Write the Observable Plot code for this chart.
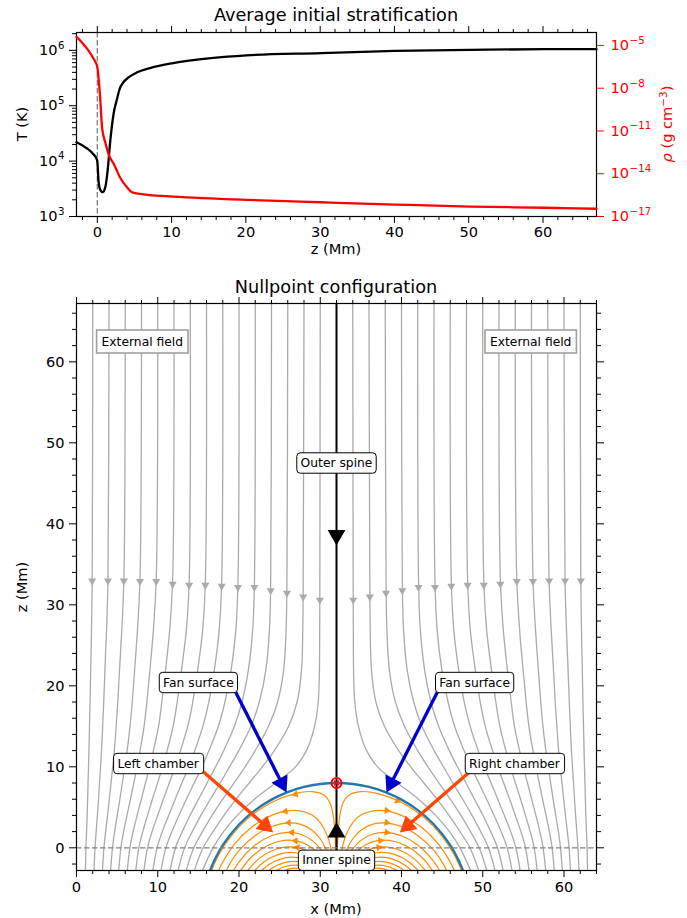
<!DOCTYPE html>
<html>
<head>
<meta charset="utf-8">
<script src="https://cdn.jsdelivr.net/npm/d3@7"></script>
<script src="https://cdn.jsdelivr.net/npm/@observablehq/plot@0.6"></script>
<style>
  html, body { margin: 0; padding: 0; background: #fff; }
  #fig { position: relative; width: 687px; height: 918px; overflow: hidden; font-family: "DejaVu Sans", sans-serif; color: #000; background: #fff; }
  .t { position: absolute; white-space: nowrap; line-height: 1; transform: translate(-50%, -50%); }
  .t.rot { transform: translate(-50%, -50%) rotate(-90deg); }
  .sp { font-size: 0.72em; position: relative; top: -0.45em; }
</style>
</head>
<body>
<div id="fig"></div>
<script>
// ---------------- DATA ----------------
// Top panel: average temperature profile T(z)
const tempZ = [-2.8, -1.5, -0.5, -0.1, 0, 0.18, 0.4, 0.72, 1.08, 1.39, 1.75, 2.2, 2.65, 3.0, 3.5, 4.2, 5.3, 7.1, 10.2, 15.3, 20.1, 30.1, 40.1, 50.2, 60.2, 67.2];
const tempK = [2.19e4, 1.74e4, 1.32e4, 1.1e4, 1.0e4, 4.17e3, 3.02e3, 2.75e3, 3.39e3, 6.76e3, 2.34e4, 7.24e4, 1.32e5, 2.0e5, 2.63e5, 3.24e5, 3.98e5, 4.79e5, 5.89e5, 7.24e5, 8.13e5, 8.91e5, 9.77e5, 1.02e6, 1.05e6, 1.05e6];
// Top panel: average density profile rho(z)
const rhoZ = [-2.8, -2.1, -1.2, -0.5, 0, 0.15, 0.35, 0.65, 1.1, 1.5, 2.3, 3.1, 4.0, 4.66, 5.5, 7, 10.2, 20.1, 30.1, 40.1, 50.2, 60.2, 67.2];
const rhoG = [3.98e-5, 1.7e-5, 4.47e-6, 1.15e-6, 3.16e-7, 6.3e-8, 3.98e-9, 1.58e-11, 1.41e-12, 2.5e-13, 3.98e-14, 5e-15, 1.12e-15, 5e-16, 3.98e-16, 3.16e-16, 2.5e-16, 1.48e-16, 1e-16, 6.9e-17, 5e-17, 4.1e-17, 3.5e-17];

// Tick values
const topXTicks = [0, 10, 20, 30, 40, 50, 60];
const tTicks = [1e3, 1e4, 1e5, 1e6];
const rhoTicks = [1e-17, 1e-14, 1e-11, 1e-8, 1e-5];
const botXTicks = [0, 10, 20, 30, 40, 50, 60];
const botZTicks = [0, 10, 20, 30, 40, 50, 60];

// Bottom panel: external (gray) field lines, left half; right half is the mirror image about x = 32
const grayZ = [67.2, 33, 27, 22, 18, 15, 12, 10, 8, 6, 4, 2, 0, -2.8];
const grayLeftX = [
  [30, 29.95, 29.93, 29.9, 29.75, 29.3, 28.3, 26.95, 24.5, 21.9, 19.8, 18.1, 16.8, 15.5],
  [28, 27.9, 27.85, 27.7, 27.15, 26.1, 24.35, 22.87, 21.25, 19.63, 18.15, 16.8, 15.58, 14.5],
  [26, 25.9, 25.8, 25.5, 24.75, 23.63, 22.0, 20.75, 19.38, 18.0, 16.69, 15.5, 14.44, 13.5],
  [24, 23.9, 23.75, 23.31, 22.5, 21.47, 19.98, 18.83, 17.68, 16.47, 15.32, 14.25, 13.3, 12.5],
  [22, 21.9, 21.69, 21.16, 20.37, 19.43, 18.12, 17.12, 16.07, 15.02, 13.97, 13.02, 12.18, 11.5],
  [20, 19.88, 19.62, 19.04, 18.27, 17.46, 16.3, 15.44, 14.48, 13.52, 12.61, 11.74, 11.0, 10.4],
  [18, 17.87, 17.57, 16.97, 16.28, 15.55, 14.56, 13.83, 12.97, 12.15, 11.34, 10.56, 9.92, 9.4],
  [16, 15.86, 15.54, 14.92, 14.31, 13.69, 12.8, 12.15, 11.42, 10.69, 9.99, 9.3, 8.74, 8.3],
  [14, 13.87, 13.53, 12.93, 12.39, 11.89, 11.15, 10.58, 9.98, 9.34, 8.74, 8.16, 7.67, 7.3],
  [12, 11.83, 11.48, 10.97, 10.5, 10.1, 9.47, 9.01, 8.49, 7.98, 7.46, 6.97, 6.57, 6.25],
  [10, 9.81, 9.47, 9.04, 8.66, 8.32, 7.82, 7.46, 7.05, 6.64, 6.21, 5.8, 5.46, 5.2],
  [8, 7.81, 7.51, 7.16, 6.86, 6.59, 6.23, 5.95, 5.64, 5.34, 5.02, 4.69, 4.43, 4.2],
  [6, 5.83, 5.58, 5.3, 5.08, 4.88, 4.66, 4.46, 4.25, 4.04, 3.82, 3.59, 3.38, 3.2],
  [4, 3.87, 3.7, 3.5, 3.35, 3.22, 3.08, 2.96, 2.83, 2.71, 2.57, 2.42, 2.28, 2.15],
  [2, 1.93, 1.85, 1.75, 1.67, 1.6, 1.53, 1.48, 1.42, 1.37, 1.31, 1.24, 1.16, 1.1]
];
const grayArrowZ = [30.6, 31.0, 31.45, 31.75, 32.15, 32.15, 32.3, 32.45, 32.45, 32.55, 32.9, 32.9, 32.95, 32.95, 32.95];

// Bottom panel: closed (orange) field lines under the fan dome, left half
const orangeLeftX = [
  [31.96, 31.9, 31.8, 31.6, 31.2, 30.5, 29, 27, 24, 21, 19, 17.5, 16.62],
  [31.74, 31.6, 31.3, 30.8, 30, 29, 27.5, 25.7, 23.5, 21.5, 19.5, 18, 17.5],
  [31.5, 31.2, 30.7, 30, 29, 27.5, 26, 24, 22, 20, 19, 18.43],
  [31.25, 30.8, 30, 29, 27.5, 26, 24, 22, 20, 19.32],
  [31, 30.4, 29.5, 28.5, 27, 25.5, 23.5, 21.5, 20.2],
  [30.72, 30, 29, 27.5, 26, 24.5, 22.5, 21.07],
  [30.42, 29.5, 28.5, 27, 25.5, 24, 23, 21.93],
  [30.09, 29.2, 28, 26.5, 25, 23.8, 22.78],
  [29.7, 28.8, 27.5, 26, 24.7, 23.65],
  [29.26, 28.3, 27, 25.7, 24.58],
  [28.7, 28, 27, 26, 25.6]
];
const orangeLeftZ = [
  [-2.8, -0.3, 1.9, 3.94, 5.53, 6.48, 6.94, 6.73, 5.6, 3.54, 1.42, -0.87, -2.8],
  [-2.8, -1.69, -0.01, 1.66, 3.12, 4.04, 4.57, 4.52, 3.77, 2.5, 0.51, -1.77, -2.8],
  [-2.8, -1.57, -0.15, 1.12, 2.18, 2.93, 3.07, 2.63, 1.53, -0.35, -1.76, -2.8],
  [-2.8, -1.57, -0.14, 0.92, 1.71, 1.9, 1.49, 0.35, -1.73, -2.8],
  [-2.8, -1.62, -0.46, 0.32, 0.88, 0.91, 0.28, -1.17, -2.8],
  [-2.8, -1.72, -0.76, -0.04, 0.12, -0.18, -1.3, -2.8],
  [-2.8, -1.76, -1.07, -0.61, -0.65, -1.17, -1.8, -2.8],
  [-2.8, -2.0, -1.39, -1.16, -1.42, -2.0, -2.8],
  [-2.8, -2.17, -1.73, -1.74, -2.15, -2.8],
  [-2.8, -2.35, -2.13, -2.31, -2.8],
  [-2.8, -2.6, -2.51, -2.66, -2.8]
];
const orangeArrowLX = [26.95, 25.7, 26.1, 26.5, 26.95, 27.2];
const orangeArrowLZ = [6.6, 4.5, 3.1, 1.9, 0.86, 0.04];
const orangeArrowLRot = [255, 259, 265, 274, 271, 275];
const orangeArrowRX = [39.5, 38.2, 38.2, 38.2, 37.4, 37.2];
const orangeArrowRZ = [5.8, 4.6, 3.1, 1.9, 0.9, 0.05];
const orangeArrowRRot = [111, 96, 102, 101, 89, 84];

// Fan surface (separatrix dome), left half; mirrored about x = 32
const fanLeftX = [16.44, 16.7, 17, 18, 20, 22, 24, 26, 28, 30, 32];
const fanLeftZ = [-2.8, -2.16, -1.49, 0.32, 2.87, 4.65, 5.95, 6.88, 7.51, 7.88, 8.0];

// Spine and null point
const spineX = 32;
const nullZ = 8;
const spineArrowZ = [38.6, 1.9];
const spineArrowRot = [180, 0];

// Annotation labels
const roundLabelText = ["Outer spine", "Fan surface", "Fan surface", "Left chamber", "Right chamber", "Inner spine"];
const roundLabelX = [32, 15.0, 49.0, 10.05, 53.9, 32];
const roundLabelZ = [47.5, 20.4, 20.4, 10.4, 10.4, -1.55];
const squareLabelText = ["External field", "External field"];
const squareLabelX = [8.1, 55.9];
const squareLabelZ = [62.5, 62.5];

// Annotation arrows (tail -> tip)
const annFromX = [19.5, 44.5, 15.6, 48.4];
const annFromZ = [19.4, 19.4, 9.4, 9.4];
const annToX = [25.85, 38.15, 24.2, 39.8];
const annToZ = [6.83, 6.83, 1.9, 1.9];
const annColor = ["#0000cd", "#0000cd", "#ff4500", "#ff4500"];

// ---------------- BUILD TABLES ----------------
const tData = tempZ.map((z, i) => ({z, T: tempK[i]}));
const rData = rhoZ.map((z, i) => ({z, rho: rhoG[i]}));
const MIR = 64; // mirror: x -> 64 - x (about x = 32)

const grayData = [];
grayLeftX.forEach((xs, i) => xs.forEach((x, j) => {
  grayData.push({id: "L" + i, x, z: grayZ[j]});
  grayData.push({id: "R" + i, x: MIR - x, z: grayZ[j]});
}));
const grayArrows = [];
grayLeftX.forEach((xs, i) => {
  grayArrows.push({x: xs[1], z: grayArrowZ[i]});
  grayArrows.push({x: MIR - xs[1], z: grayArrowZ[i]});
});
const orangeData = [];
orangeLeftX.forEach((xs, i) => xs.forEach((x, j) => {
  orangeData.push({id: "L" + i, x, z: orangeLeftZ[i][j]});
  orangeData.push({id: "R" + i, x: MIR - x, z: orangeLeftZ[i][j]});
}));
const orangeArrows = orangeArrowLX.map((x, i) => ({x, z: orangeArrowLZ[i], rot: orangeArrowLRot[i]}))
  .concat(orangeArrowRX.map((x, i) => ({x, z: orangeArrowRZ[i], rot: orangeArrowRRot[i]})));
const fanData = fanLeftX.map((x, i) => ({x, z: fanLeftZ[i]}))
  .concat(fanLeftX.slice(0, -1).map((x, i) => ({x: MIR - x, z: fanLeftZ[i]})).reverse());
const spineArrows = spineArrowZ.map((z, i) => ({x: spineX, z, rot: spineArrowRot[i]}));
const roundLabels = roundLabelText.map((t, i) => ({t, x: roundLabelX[i], z: roundLabelZ[i]}));
const squareLabels = squareLabelText.map((t, i) => ({t, x: squareLabelX[i], z: squareLabelZ[i]}));
const annArrows = annFromX.map((x1, i) => {
  const dx = annToX[i] - x1, dz = annToZ[i] - annFromZ[i], L = Math.hypot(dx, dz);
  const ux = dx / L, uz = dz / L;
  return {x1, z1: annFromZ[i], x2: annToX[i] - 1.5 * ux, z2: annToZ[i] - 1.5 * uz,
          hx: annToX[i] - 1.28 * ux, hz: annToZ[i] - 1.28 * uz,
          rot: Math.atan2(dx, dz) * 180 / Math.PI, color: annColor[i]};
});

// ---------------- HELPERS ----------------
const NS = "http://www.w3.org/2000/svg";
const fmtPow = d => "10^" + Math.round(Math.log10(d));
const blank = () => "";
const minorLin = (a, b) => d3.range(a, b + 0.001, 2).filter(v => v % 10 !== 0);
const tMinor = [1e3, 1e4, 1e5, 1e6].flatMap(e => d3.range(2, 10).map(m => m * e)).filter(v => v <= 2.1e6);
const FONT = "font-family: 'DejaVu Sans', sans-serif; font-size: 14.6px; background: none; overflow: visible;";
const TS = 7, TSm = 4;

const fig = document.getElementById("fig");
function place(svg, top) {
  svg.style.position = "absolute"; svg.style.left = "0px"; svg.style.top = top + "px";
  fig.appendChild(svg);
}
function label(html, cx, cy, size, rot, color) {
  const d = document.createElement("div");
  d.className = "t" + (rot ? " rot" : "");
  d.style.left = cx + "px"; d.style.top = cy + "px"; d.style.fontSize = size + "px";
  if (color) d.style.color = color;
  d.innerHTML = html;
  fig.appendChild(d);
}
// turn "10^e" tick labels into 10 with a raised, smaller exponent
function fixPowers(svg) {
  svg.querySelectorAll("text").forEach(t => {
    const m = /^10\^(-?\d+)$/.exec(t.textContent.trim());
    if (!m) return;
    t.textContent = "";
    const a = document.createElementNS(NS, "tspan"); a.textContent = "10"; t.appendChild(a);
    const b = document.createElementNS(NS, "tspan");
    b.textContent = m[1].replace("-", "\u2212");
    b.setAttribute("font-size", "0.7em"); b.setAttribute("dy", "-0.62em"); b.setAttribute("dx", "0.05em");
    t.appendChild(b);
  });
}

// ---------------- TOP PANEL ----------------
const topDims = {width: 687, height: 260, marginLeft: 76, marginRight: 91, marginTop: 32, marginBottom: 44};
const topBase = Plot.plot({
  ...topDims, style: FONT,
  x: {domain: [-2.8, 67.2]},
  y: {type: "log", domain: [1e3, 2.1e6]},
  marks: [
    Plot.ruleX([0], {stroke: "#808080", strokeWidth: 1.3, strokeDasharray: "5.5,2.5"}),
    Plot.line(tData, {x: "z", y: "T", stroke: "black", strokeWidth: 2.3, curve: "monotone-x"}),
    Plot.axisX({ticks: topXTicks, tickSize: TS, tickPadding: 3, tickFormat: d => String(d), label: null}),
    Plot.axisX({ticks: minorLin(-2, 66), tickSize: TSm, tickFormat: blank, label: null}),
    Plot.axisX({anchor: "top", ticks: topXTicks, tickSize: TS, tickFormat: blank, label: null}),
    Plot.axisX({anchor: "top", ticks: minorLin(-2, 66), tickSize: TSm, tickFormat: blank, label: null}),
    Plot.axisY({ticks: tTicks, tickSize: TS, tickPadding: 5, tickFormat: fmtPow, label: null}),
    Plot.axisY({ticks: tMinor, tickSize: TSm, tickFormat: blank, label: null}),
    Plot.frame({stroke: "black", strokeWidth: 1.2})
  ]
});
place(topBase, 0);
fixPowers(topBase);

const topRho = Plot.plot({
  ...topDims, style: FONT + " color: red;",
  x: {domain: [-2.8, 67.2], axis: null},
  y: {type: "log", domain: [1e-17, 8.1e-5]},
  marks: [
    Plot.line(rData, {x: "z", y: "rho", stroke: "red", strokeWidth: 2.3, curve: "monotone-x"}),
    Plot.axisY({anchor: "right", ticks: rhoTicks, tickSize: TS, tickPadding: 7, tickFormat: fmtPow, label: null})
  ]
});
place(topRho, 0);
fixPowers(topRho);

// ---------------- BOTTOM PANEL ----------------
const bottom = Plot.plot({
  width: 687, height: 658, marginLeft: 76, marginRight: 91, marginTop: 43, marginBottom: 48,
  style: FONT,
  x: {domain: [0, 64]},
  y: {domain: [-2.8, 67.2]},
  marks: [
    Plot.line(grayData, {x: "x", y: "z", z: "id", stroke: "#aaaaaa", strokeWidth: 1.3, curve: "catmull-rom", clip: true}),
    Plot.dot(grayArrows, {x: "x", y: "z", symbol: "triangle", r: 3, fill: "#aaaaaa", rotate: 180}),
    Plot.line(orangeData, {x: "x", y: "z", z: "id", stroke: "#ff8c00", strokeWidth: 1.2, curve: "catmull-rom", clip: true}),
    Plot.dot(orangeArrows, {x: "x", y: "z", symbol: "triangle", r: 2.7, fill: "#ff8c00", rotate: "rot"}),
    Plot.line(fanData, {x: "x", y: "z", stroke: "#1f77b4", strokeWidth: 2.3, curve: "catmull-rom", clip: true}),
    Plot.ruleX([spineX], {stroke: "black", strokeWidth: 2}),
    Plot.dot(spineArrows, {x: "x", y: "z", symbol: "triangle", r: 6.6, fill: "black", rotate: "rot"}),
    Plot.ruleY([0], {stroke: "#808080", strokeWidth: 1.3, strokeDasharray: "5.5,2.5"}),
    Plot.link(annArrows, {x1: "x1", y1: "z1", x2: "x2", y2: "z2", stroke: "color", strokeWidth: 3.3}),
    Plot.dot(annArrows, {x: "hx", y: "hz", symbol: "triangle", r: 6.7, fill: "color", rotate: "rot"}),
    Plot.dot([{x: spineX, z: nullZ}], {x: "x", y: "z", r: 5, stroke: "red", strokeWidth: 2, fill: "none"}),
    Plot.dot([{x: spineX, z: nullZ}], {x: "x", y: "z", symbol: "times", r: 2.3, stroke: "red", strokeWidth: 1.5}),
    Plot.text(squareLabels, {x: "x", y: "z", text: "t", fontSize: 12.3, fill: "black", className: "annot-square"}),
    Plot.text(roundLabels, {x: "x", y: "z", text: "t", fontSize: 12.3, fill: "black", className: "annot-round"}),
    Plot.axisX({ticks: botXTicks, tickSize: TS, tickPadding: 4, tickFormat: d => String(d), label: null}),
    Plot.axisX({ticks: minorLin(2, 64), tickSize: TSm, tickFormat: blank, label: null}),
    Plot.axisX({anchor: "top", ticks: botXTicks, tickSize: TS, tickFormat: blank, label: null}),
    Plot.axisX({anchor: "top", ticks: minorLin(2, 64), tickSize: TSm, tickFormat: blank, label: null}),
    Plot.axisY({ticks: botZTicks, tickSize: TS, tickPadding: 5, tickFormat: d => String(d), label: null}),
    Plot.axisY({ticks: minorLin(-2, 66), tickSize: TSm, tickFormat: blank, label: null}),
    Plot.axisY({anchor: "right", ticks: botZTicks, tickSize: TS, tickFormat: blank, label: null}),
    Plot.axisY({anchor: "right", ticks: minorLin(-2, 66), tickSize: TSm, tickFormat: blank, label: null}),
    Plot.frame({stroke: "black", strokeWidth: 1.2})
  ]
});
place(bottom, 260);

// Boxes behind annotation texts
function boxify(svg, cls, px, py, rx, stroke, sw) {
  svg.querySelectorAll("g." + cls + " text").forEach(t => {
    const b = t.getBBox();
    const r = document.createElementNS(NS, "rect");
    r.setAttribute("x", b.x - px); r.setAttribute("y", b.y - py);
    r.setAttribute("width", b.width + 2 * px); r.setAttribute("height", b.height + 2 * py);
    r.setAttribute("rx", rx); r.setAttribute("fill", "white");
    r.setAttribute("stroke", stroke); r.setAttribute("stroke-width", sw);
    const tr = t.getAttribute("transform"); if (tr) r.setAttribute("transform", tr);
    t.parentNode.insertBefore(r, t);
  });
}
boxify(bottom, "annot-round", 3.8, 3.2, 3.5, "black", 1);
boxify(bottom, "annot-square", 5, 4.5, 0, "#a0a0a0", 1.6);

// ---------------- TITLES & AXIS LABELS ----------------
label("Average initial stratification", 336, 16, 17.7);
label("T (K)", 22, 124, 14.6, true);
label("<i>\u03C1</i> (g cm<span class='sp'>\u22123</span>)", 667, 124, 14.6, true, "red");
label("z (Mm)", 336, 249, 14.6);
label("Nullpoint configuration", 336, 288, 17.7);
label("z (Mm)", 22, 587, 14.6, true);
label("x (Mm)", 336, 909, 14.6);
</script>
</body>
</html>
